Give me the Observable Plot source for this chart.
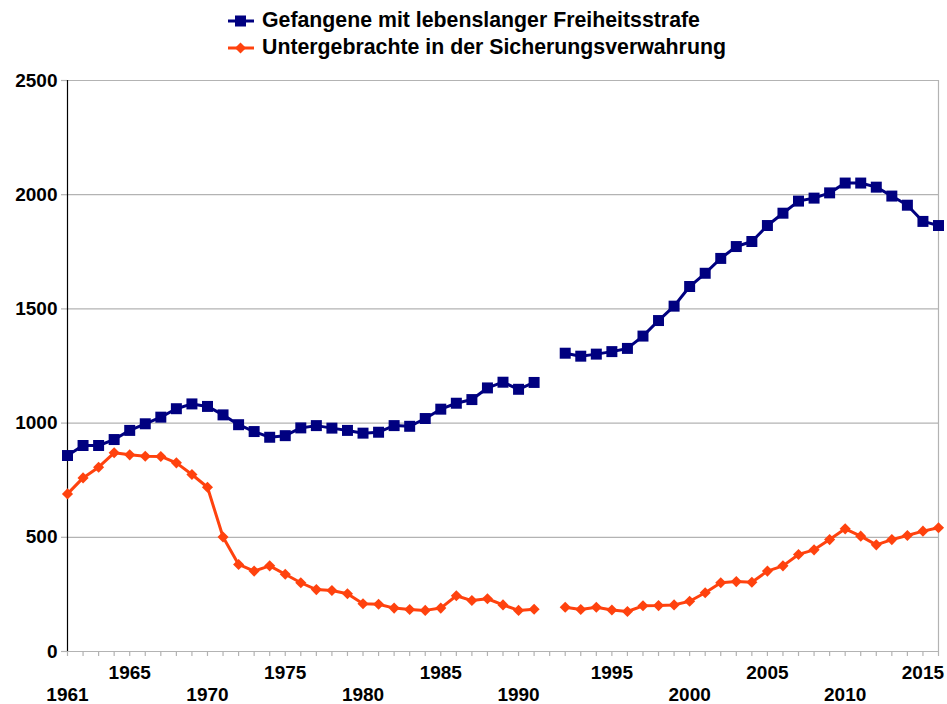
<!DOCTYPE html>
<html>
<head>
<meta charset="utf-8">
<script src="https://cdn.jsdelivr.net/npm/d3@7"></script>
<script src="https://cdn.jsdelivr.net/npm/@observablehq/plot@0.6"></script>
<style>
  html, body { margin: 0; padding: 0; background: #fff; }
  body { width: 947px; height: 704px; overflow: hidden; font-family: "Liberation Sans", Arial, sans-serif; }
  #legend { height: 62px; position: relative; }
  .item { position: absolute; left: 226px; display: flex; align-items: center; font-weight: bold; font-size: 21.3px; color: #000; white-space: nowrap; }
  .item svg { margin-right: 6px; }
</style>
</head>
<body>
<div id="legend">
  <div class="item" style="top:8px">
    <svg width="30" height="24"><line x1="2" x2="28" y1="12" y2="12" stroke="#000080" stroke-width="3"/><rect x="9" y="6.5" width="11" height="11" fill="#000080"/></svg>
    <span>Gefangene mit lebenslanger Freiheitsstrafe</span>
  </div>
  <div class="item" style="top:35px">
    <svg width="30" height="24"><line x1="2" x2="28" y1="12" y2="12" stroke="#ff420e" stroke-width="3"/><path d="M14.5,6.5 L20,12 L14.5,17.5 L9,12 Z" fill="#ff420e"/></svg>
    <span>Untergebrachte in der Sicherungsverwahrung</span>
  </div>
</div>
<div id="chart"></div>
<script>
// Categories (x axis). null = empty category between 1991 and 1992
const years = [1961,1962,1963,1964,1965,1966,1967,1968,1969,1970,
               1971,1972,1973,1974,1975,1976,1977,1978,1979,1980,
               1981,1982,1983,1984,1985,1986,1987,1988,1989,1990,
               1991,null,
               1992,1993,1994,1995,1996,1997,1998,1999,2000,
               2001,2002,2003,2004,2005,2006,2007,2008,2009,2010,
               2011,2012,2013,2014,2015,2016];

// Gefangene mit lebenslanger Freiheitsstrafe
const lifers = [858,902,902,928,968,997,1026,1063,1084,1073,
                1036,993,963,938,945,979,989,978,968,956,
                960,989,986,1020,1061,1087,1103,1154,1179,1148,
                1178,null,
                1306,1293,1302,1313,1327,1381,1449,1512,1598,
                1656,1721,1773,1795,1865,1919,1972,1985,2008,2051,
                2051,2033,1994,1954,1883,1865];

// Untergebrachte in der Sicherungsverwahrung
const sv = [690,760,807,870,861,855,854,826,775,719,
            501,381,352,375,338,301,271,267,253,209,
            207,190,184,180,190,244,223,231,204,180,
            185,null,
            194,184,194,182,175,200,201,204,220,
            257,301,306,303,352,375,425,445,490,537,
            505,467,490,508,527,542];

const yTicks = [0,500,1000,1500,2000,2500];
const labelsRow1 = [1965,1975,1985,1995,2005,2015];
const labelsRow2 = [1961,1970,1980,1990,2000,2010];

const rows = years.map((year, i) => ({i, year, lifers: lifers[i], sv: sv[i]}));
const idx = y => years.indexOf(y);
const n = years.length - 1;

const chart = Plot.plot({
  width: 947,
  height: 642,
  marginTop: 18,
  marginBottom: 53,
  marginLeft: 67,
  marginRight: 9,
  x: {type: "linear", domain: [0, n], axis: null},
  y: {domain: [0, 2500], axis: null},
  style: {fontFamily: "Liberation Sans, Arial, sans-serif", fontWeight: "bold", color: "#000", background: "#fff"},
  marks: [
    Plot.ruleY(yTicks, {stroke: "#b3b3b3", strokeWidth: 1.2}),
    Plot.ruleX([n], {stroke: "#b3b3b3", strokeWidth: 1.2}),
    Plot.axisX(d3.range(0, n + 1), {tickSize: 5, tickFormat: () => "", label: null, stroke: "#b3b3b3", strokeWidth: 1.2}),
    Plot.axisY(yTicks, {tickSize: 6, tickPadding: 4, fontSize: 19, label: null, tickFormat: d => String(d), stroke: "#b3b3b3", fill: "#000", strokeWidth: 1.2}),
    Plot.ruleX([0], {stroke: "#000", strokeWidth: 1.2}),
    Plot.text(labelsRow1, {x: d => idx(d), text: d => String(d), frameAnchor: "bottom", dy: 21, lineAnchor: "middle", fontSize: 19, fill: "#000"}),
    Plot.text(labelsRow2, {x: d => idx(d), text: d => String(d), frameAnchor: "bottom", dy: 43, lineAnchor: "middle", fontSize: 19, fill: "#000"}),
    Plot.line(rows, {x: "i", y: "sv", stroke: "#ff420e", strokeWidth: 3}),
    Plot.dot(rows.filter(d => d.sv != null), {x: "i", y: "sv", symbol: "diamond2", r: 5, fill: "#ff420e", stroke: "none"}),
    Plot.line(rows, {x: "i", y: "lifers", stroke: "#000080", strokeWidth: 3}),
    Plot.dot(rows.filter(d => d.lifers != null), {x: "i", y: "lifers", symbol: "square", r: 6.2, fill: "#000080", stroke: "none"})
  ]
});
document.getElementById("chart").appendChild(chart);
</script>
</body>
</html>
